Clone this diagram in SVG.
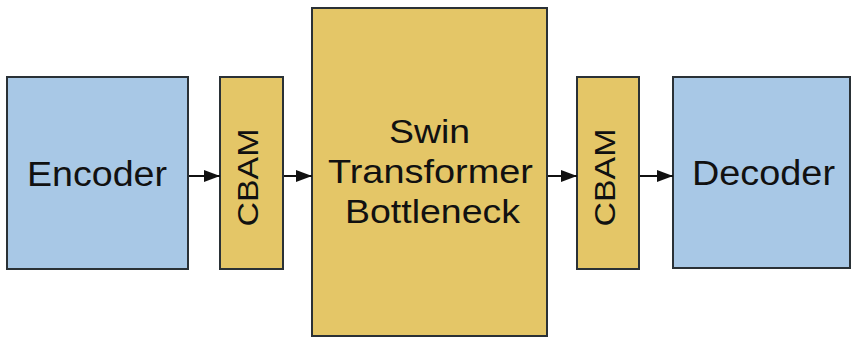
<svg xmlns="http://www.w3.org/2000/svg" width="852" height="338" viewBox="0 0 852 338">
<style>
.blue{fill:#a8c8e6;stroke:#2a3136;stroke-width:2}
.yel{fill:#e4c667;stroke:#2a3136;stroke-width:2}
.t{font-family:"Liberation Sans",Arial,sans-serif;fill:#111;text-anchor:middle}
.c{stroke:#111;stroke-width:2;fill:none;marker-end:url(#ah)}
</style>
<defs>
<marker id="ah" viewBox="0 0 16 12" refX="16" refY="6" markerWidth="16" markerHeight="12" markerUnits="userSpaceOnUse" orient="auto">
<path d="M0,0 L16,6 L0,12 Z" fill="#111"/>
</marker>
</defs>
<rect width="852" height="338" fill="#fff"/>
<g id="encoder">
<rect class="blue" x="7" y="77" width="181" height="192"/>
<text class="t" x="97" y="186" font-size="35" textLength="140" lengthAdjust="spacingAndGlyphs">Encoder</text>
</g>
<g id="cbam1">
<rect class="yel" x="220" y="77" width="63" height="192"/>
<text class="t" transform="translate(258,177.5) rotate(-90)" font-size="30" textLength="98" lengthAdjust="spacingAndGlyphs">CBAM</text>
</g>
<g id="swin">
<rect class="yel" x="312" y="8" width="235" height="328"/>
<text class="t" x="429.5" y="143" font-size="33" textLength="81" lengthAdjust="spacingAndGlyphs">Swin</text>
<text class="t" x="430.5" y="183" font-size="33" textLength="205" lengthAdjust="spacingAndGlyphs">Transformer</text>
<text class="t" x="432.5" y="223" font-size="33" textLength="175" lengthAdjust="spacingAndGlyphs">Bottleneck</text>
</g>
<g id="cbam2">
<rect class="yel" x="577" y="77" width="62" height="192"/>
<text class="t" transform="translate(615,177.5) rotate(-90)" font-size="30" textLength="98" lengthAdjust="spacingAndGlyphs">CBAM</text>
</g>
<g id="decoder">
<rect class="blue" x="673" y="77" width="177" height="191"/>
<text class="t" x="763.5" y="185" font-size="35" textLength="143" lengthAdjust="spacingAndGlyphs">Decoder</text>
</g>
<g id="connectors">
<line class="c" x1="189" y1="176" x2="220" y2="176"/>
<line class="c" x1="284" y1="176" x2="312" y2="176"/>
<line class="c" x1="548" y1="176" x2="577" y2="176"/>
<line class="c" x1="640" y1="176" x2="673" y2="176"/>
</g>
</svg>
